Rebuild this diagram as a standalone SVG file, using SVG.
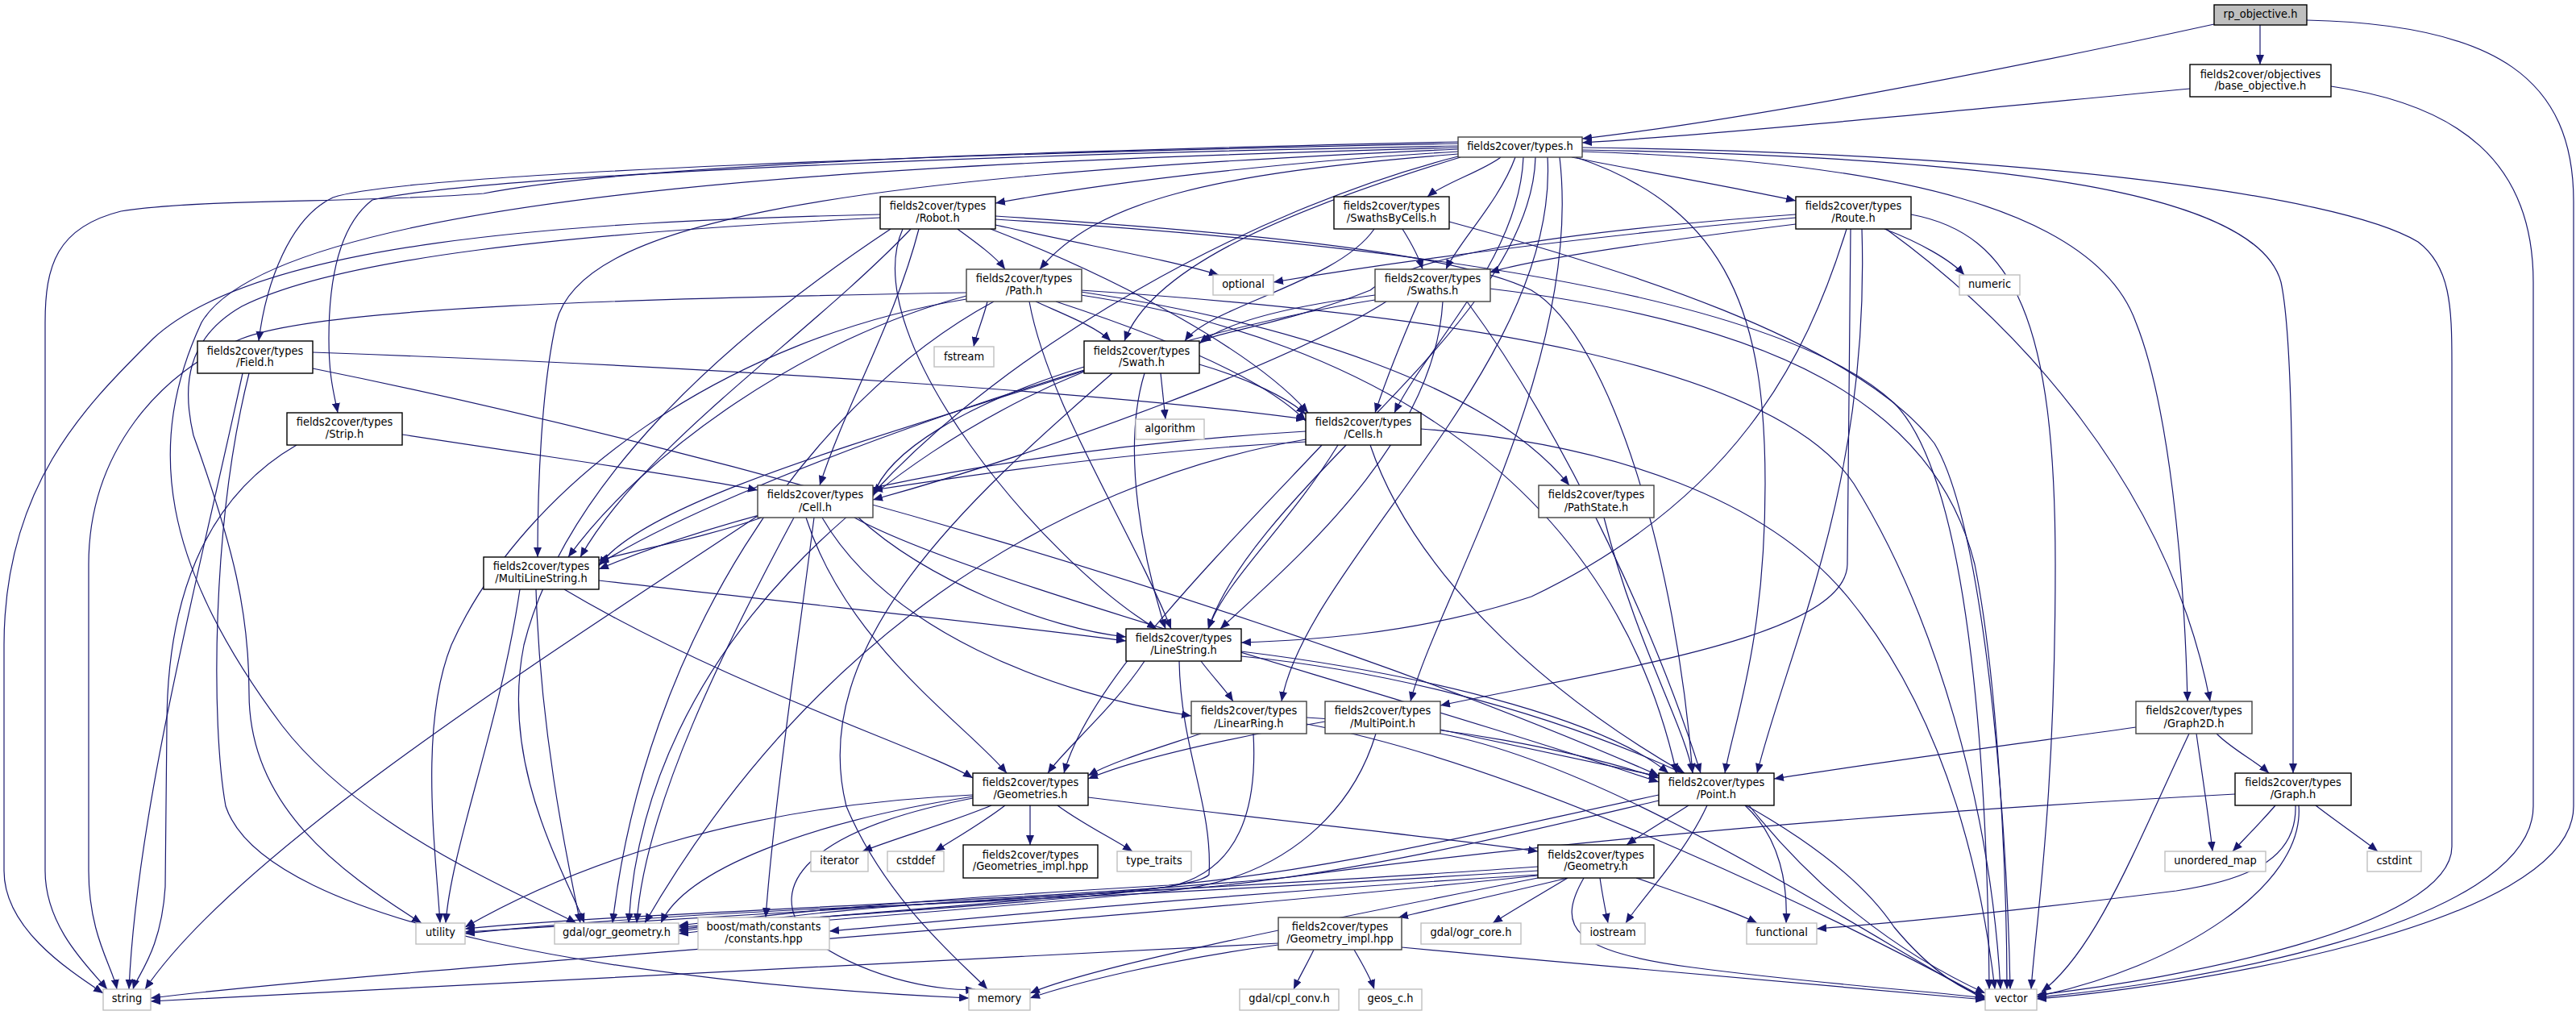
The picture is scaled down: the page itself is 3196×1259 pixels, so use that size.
<svg xmlns="http://www.w3.org/2000/svg" width="3196" height="1259" viewBox="0 0 3196 1259">
<defs>
<marker id="a" markerUnits="userSpaceOnUse" markerWidth="12" markerHeight="10" refX="12" refY="5" orient="auto"><path d="M0,0 L12,5 L0,10 z" fill="#191970"/></marker>
<style>
.e{fill:none;stroke:#191970;stroke-width:1.2;marker-end:url(#a)}
.n rect{fill:#fff;stroke:#000;stroke-width:1.4}
.d rect{stroke:#404040}
.x rect{stroke:#bfbfbf}
.r rect{fill:#bfbfbf}
text{font-family:"DejaVu Sans","Liberation Sans",sans-serif;font-size:13px;text-anchor:middle;fill:#000}
</style>
</defs>
<rect width="3196" height="1259" fill="#fff"/>
<g id="edges">
<path class="e" d="M2804,31 L2804,80"/>
<path class="e" d="M2747,30 C2450,95 2150,150 1963,172"/>
<path class="e" d="M2862,25 C3100,30 3193,100 3193,250 L3193,1000 C3193,1150 2700,1225 2527,1239"/>
<path class="e" d="M2717,110 C2400,140 2150,165 1963,177"/>
<path class="e" d="M2892,107 C3050,130 3143,200 3143,350 L3143,1000 C3143,1150 2700,1222 2527,1237"/>
<path class="e" d="M1809,188 C1600,200 1380,225 1235,252"/>
<path class="e" d="M1862,195 C1840,212 1790,228 1771,244"/>
<path class="e" d="M1950,195 C2050,215 2150,232 2228,249"/>
<path class="e" d="M1880,195 C1860,250 1810,300 1794,334"/>
<path class="e" d="M1809,191 C1500,215 1360,250 1290,334"/>
<path class="e" d="M1812,195 C1600,260 1430,330 1395,423"/>
<path class="e" d="M1890,195 C1885,320 1770,430 1730,512"/>
<path class="e" d="M1809,194 C1550,260 1250,430 1083,612"/>
<path class="e" d="M1809,178 C1200,190 500,215 413,245 C360,270 330,350 321,423"/>
<path class="e" d="M1809,181 C1200,192 600,218 462,248 C420,280 408,350 408,420 C408,470 415,490 419,512"/>
<path class="e" d="M1809,185 C1000,220 720,280 690,400 C672,480 667,600 667,691"/>
<path class="e" d="M1905,195 C1900,400 1560,600 1499,780"/>
<path class="e" d="M1920,195 C1935,450 1620,700 1590,870"/>
<path class="e" d="M1935,195 C1965,450 1780,750 1750,870"/>
<path class="e" d="M1955,195 C2150,260 2190,400 2190,600 C2190,800 2150,900 2140,959"/>
<path class="e" d="M1963,188 C2350,200 2600,260 2650,400 C2690,500 2710,700 2714,870"/>
<path class="e" d="M1963,186 C2500,195 2800,240 2830,350 C2845,420 2845,600 2845,959"/>
<path class="e" d="M1809,183 C1200,200 350,230 250,400 C180,550 200,700 350,900 C450,1030 650,1110 715,1145"/>
<path class="e" d="M1809,176 C1400,185 800,200 600,240 C450,252 250,246 150,262 C70,282 56,330 56,400 L56,1080 C56,1150 110,1200 133,1227"/>
<path class="e" d="M1963,183 C2500,190 2900,240 3000,300 C3040,330 3042,380 3042,450 L3042,1050 C3042,1150 2700,1215 2527,1234"/>
<path class="e" d="M1092,266 C700,275 320,300 190,420 C110,500 5,600 5,800 L5,1080 C5,1150 80,1200 128,1232"/>
<path class="e" d="M1092,270 C700,290 420,320 300,380 C230,420 226,480 240,540 C290,680 309,760 309,860 C309,1000 420,1080 523,1145"/>
<path class="e" d="M1105,284 C900,420 700,600 650,800 C620,950 700,1080 725,1145"/>
<path class="e" d="M1235,279 C1350,305 1450,322 1512,341"/>
<path class="e" d="M1188,284 C1210,300 1235,318 1247,334"/>
<path class="e" d="M1140,284 C1110,400 1050,500 1017,602"/>
<path class="e" d="M1229,284 C1400,350 1560,440 1623,512"/>
<path class="e" d="M1130,284 C1000,420 800,550 720,691"/>
<path class="e" d="M1120,284 C1060,420 1300,700 1435,780"/>
<path class="e" d="M1235,268 C1500,285 1800,310 1900,360 C2000,420 2080,700 2100,959"/>
<path class="e" d="M1235,272 C1700,300 2200,360 2350,500 C2450,600 2466,1000 2468,1227"/>
<path class="e" d="M1740,284 C1750,300 1760,318 1765,334"/>
<path class="e" d="M1705,284 C1660,350 1500,380 1470,423"/>
<path class="e" d="M1798,275 C2000,330 2300,420 2400,550 C2460,650 2490,1000 2494,1227"/>
<path class="e" d="M2228,270 C1900,300 1700,330 1580,350"/>
<path class="e" d="M2338,284 C2380,300 2420,322 2437,341"/>
<path class="e" d="M2228,278 C2050,300 1900,322 1848,338"/>
<path class="e" d="M2228,266 C1900,290 1750,320 1700,360 C1600,400 1520,410 1490,423"/>
<path class="e" d="M2291,284 C2240,450 2150,620 1900,740 C1750,790 1600,795 1540,797"/>
<path class="e" d="M2296,284 L2292,700 C2290,790 2000,830 1787,875"/>
<path class="e" d="M2340,284 C2500,400 2690,600 2742,870"/>
<path class="e" d="M2310,284 C2320,600 2220,800 2180,959"/>
<path class="e" d="M2371,266 C2500,290 2550,400 2550,700 C2550,1000 2525,1150 2520,1227"/>
<path class="e" d="M1199,363 C800,370 400,380 300,420 C200,460 110,560 110,700 L110,1080 C110,1160 140,1200 145,1227"/>
<path class="e" d="M1225,374 C1220,395 1212,412 1208,430"/>
<path class="e" d="M1285,374 C1320,390 1360,405 1378,423"/>
<path class="e" d="M1310,374 C1450,420 1570,470 1620,522"/>
<path class="e" d="M1341,362 C1600,400 1850,480 1947,602"/>
<path class="e" d="M1199,367 C1000,420 800,560 705,691"/>
<path class="e" d="M1277,374 C1300,500 1400,650 1453,780"/>
<path class="e" d="M1341,366 C1700,420 2000,600 2080,959"/>
<path class="e" d="M1233,374 C1000,500 800,800 760,1145"/>
<path class="e" d="M1199,371 C900,420 650,600 560,800 C520,900 540,1050 546,1145"/>
<path class="e" d="M1341,360 C1800,390 2200,450 2300,600 C2400,760 2470,1000 2482,1227"/>
<path class="e" d="M1706,366 C1600,380 1520,400 1488,426"/>
<path class="e" d="M1760,374 C1740,420 1720,470 1706,512"/>
<path class="e" d="M1720,374 C1600,450 1300,560 1083,620"/>
<path class="e" d="M1790,374 C1780,550 1600,700 1514,780"/>
<path class="e" d="M1706,372 C1400,420 900,600 743,700"/>
<path class="e" d="M1820,374 C1950,550 2060,800 2110,959"/>
<path class="e" d="M1848,358 C2200,400 2400,500 2450,700 C2480,850 2490,1100 2490,1227"/>
<path class="e" d="M1440,463 L1446,520"/>
<path class="e" d="M1488,452 C1550,470 1600,495 1620,514"/>
<path class="e" d="M1345,455 C1200,500 1100,560 1083,616"/>
<path class="e" d="M1420,463 C1390,560 1420,700 1446,780"/>
<path class="e" d="M1345,460 C1100,540 800,620 743,702"/>
<path class="e" d="M1345,461 C1100,560 800,800 780,1145"/>
<path class="e" d="M1380,463 C1200,620 1000,800 1050,1000 C1100,1120 1200,1200 1225,1227"/>
<path class="e" d="M388,437 C900,455 1400,490 1620,520"/>
<path class="e" d="M388,457 C900,560 1600,760 2058,962"/>
<path class="e" d="M301,463 C250,700 170,1000 160,1227"/>
<path class="e" d="M309,463 C262,650 262,900 280,1000 C330,1150 800,1220 1202,1238"/>
<path class="e" d="M499,539 C700,570 850,590 940,608"/>
<path class="e" d="M368,552 C250,620 207,750 207,900 L205,1100 C200,1180 170,1210 165,1227"/>
<path class="e" d="M1620,548 C1400,560 1200,590 1083,608"/>
<path class="e" d="M1660,552 C1600,650 1520,720 1499,780"/>
<path class="e" d="M1640,552 C1500,700 1350,850 1320,959"/>
<path class="e" d="M1700,552 C1750,700 1900,850 2090,959"/>
<path class="e" d="M1620,545 C1300,600 1000,800 800,1145"/>
<path class="e" d="M1763,532 C2000,550 2200,620 2300,750 C2420,900 2460,1100 2475,1227"/>
<path class="e" d="M1620,535 C1200,560 900,640 743,706"/>
<path class="e" d="M945,642 C880,665 800,680 743,695"/>
<path class="e" d="M1065,642 C1150,720 1300,780 1397,790"/>
<path class="e" d="M1020,642 C1100,780 1300,860 1478,888"/>
<path class="e" d="M1000,642 C1050,800 1200,900 1249,959"/>
<path class="e" d="M1060,642 C1200,720 1700,850 2058,970"/>
<path class="e" d="M985,642 C900,800 800,1000 790,1145"/>
<path class="e" d="M940,640 C700,800 300,1050 180,1227"/>
<path class="e" d="M1010,642 C990,800 960,1000 950,1138"/>
<path class="e" d="M1990,642 C2030,800 2090,900 2100,959"/>
<path class="e" d="M743,720 C1000,750 1250,775 1397,795"/>
<path class="e" d="M700,731 C900,850 1150,930 1207,965"/>
<path class="e" d="M665,731 C670,900 700,1050 720,1145"/>
<path class="e" d="M645,731 C620,900 560,1050 553,1145"/>
<path class="e" d="M1490,820 C1505,840 1520,855 1530,870"/>
<path class="e" d="M1420,820 C1380,880 1320,930 1300,959"/>
<path class="e" d="M1540,808 C1800,840 2000,900 2070,959"/>
<path class="e" d="M1463,820 C1465,930 1505,1000 1500,1085 C1480,1105 1300,1118 842,1150"/>
<path class="e" d="M1540,814 C1900,850 2250,1000 2350,1150 C2400,1210 2440,1230 2463,1236"/>
<path class="e" d="M1490,910 C1430,930 1380,945 1350,962"/>
<path class="e" d="M1621,890 C1800,900 1950,930 2058,965"/>
<path class="e" d="M1555,910 C1560,1000 1540,1080 1450,1100 C1200,1125 950,1140 842,1155"/>
<path class="e" d="M1621,898 C1900,950 2300,1150 2463,1238"/>
<path class="e" d="M1644,895 C1500,920 1400,945 1350,966"/>
<path class="e" d="M1787,905 C1900,930 2000,950 2058,963"/>
<path class="e" d="M1707,910 C1680,1000 1600,1090 1450,1105 C1200,1130 950,1145 842,1158"/>
<path class="e" d="M1787,910 C2000,950 2300,1150 2463,1240"/>
<path class="e" d="M2650,902 C2450,930 2300,950 2201,966"/>
<path class="e" d="M2750,910 C2770,930 2800,945 2815,959"/>
<path class="e" d="M2725,910 C2732,960 2740,1010 2745,1056"/>
<path class="e" d="M2716,910 C2650,1050 2600,1180 2533,1230"/>
<path class="e" d="M2823,999 C2805,1020 2785,1040 2770,1056"/>
<path class="e" d="M2873,999 C2900,1020 2930,1040 2950,1056"/>
<path class="e" d="M2852,999 C2860,1100 2700,1200 2527,1236"/>
<path class="e" d="M2848,999 C2850,1060 2800,1090 2700,1105 C2500,1130 2350,1145 2254,1152"/>
<path class="e" d="M2773,985 C2400,1005 2000,1035 1600,1088 C1300,1118 800,1130 577,1152"/>
<path class="e" d="M1230,999 C1180,1020 1110,1040 1070,1056"/>
<path class="e" d="M1247,999 C1220,1020 1185,1040 1160,1056"/>
<path class="e" d="M1278,999 L1278,1048"/>
<path class="e" d="M1312,999 C1340,1020 1380,1040 1405,1056"/>
<path class="e" d="M1350,989 C1600,1020 1800,1040 1908,1056"/>
<path class="e" d="M1207,988 C1000,1020 850,1080 820,1145"/>
<path class="e" d="M1207,990 C1000,1030 950,1100 1000,1160 C1080,1220 1180,1230 1210,1227"/>
<path class="e" d="M1207,986 C900,1000 700,1080 577,1150"/>
<path class="e" d="M2095,999 C2070,1015 2040,1033 2018,1048"/>
<path class="e" d="M2118,999 C2090,1060 2040,1110 2017,1145"/>
<path class="e" d="M2165,999 C2210,1040 2218,1100 2216,1145"/>
<path class="e" d="M2170,999 C2250,1100 2350,1180 2463,1232"/>
<path class="e" d="M2058,986 C1850,1030 1650,1080 1450,1098 C1100,1118 950,1135 842,1148"/>
<path class="e" d="M2058,993 C1900,1030 1700,1080 1500,1100 C1100,1125 800,1140 577,1156"/>
<path class="e" d="M1945,1089 C1880,1105 1790,1125 1735,1138"/>
<path class="e" d="M1945,1089 C1910,1110 1875,1130 1852,1145"/>
<path class="e" d="M1985,1089 C1988,1110 1992,1130 1995,1145"/>
<path class="e" d="M2030,1089 C2090,1110 2150,1130 2180,1145"/>
<path class="e" d="M1965,1089 C1930,1150 1950,1180 2100,1200 C2250,1220 2400,1230 2463,1238"/>
<path class="e" d="M1908,1075 C1700,1090 1500,1100 1300,1112 C1050,1125 950,1140 842,1153"/>
<path class="e" d="M1908,1080 C1600,1100 1300,1115 1000,1128 C800,1138 650,1150 577,1158"/>
<path class="e" d="M1908,1085 C1500,1110 1200,1140 1029,1155"/>
<path class="e" d="M1908,1089 C1600,1150 1350,1200 1278,1232"/>
<path class="e" d="M1908,1086 C1300,1150 500,1200 187,1238"/>
<path class="e" d="M1630,1178 C1622,1195 1612,1212 1605,1227"/>
<path class="e" d="M1680,1178 C1690,1195 1700,1212 1705,1227"/>
<path class="e" d="M1739,1175 C2000,1200 2300,1225 2463,1240"/>
<path class="e" d="M1586,1170 C1000,1200 400,1230 187,1242"/>
<path class="e" d="M1586,1172 C1450,1190 1330,1220 1278,1238"/>
</g>
<g id="rp_objective" class="n r"><rect x="2747" y="6" width="115" height="25"/><text transform="scale(1 1.1)" x="2804.5" y="20.45">rp_objective.h</text></g>
<g id="base_objective" class="n"><rect x="2717" y="80" width="175" height="40"/><text transform="scale(1 1.1)" x="2804.5" y="87.73">fields2cover/objectives</text><text transform="scale(1 1.1)" x="2804.5" y="101.36">/base_objective.h</text></g>
<g id="types" class="n d"><rect x="1809" y="170" width="154" height="25"/><text transform="scale(1 1.1)" x="1886" y="169.55">fields2cover/types.h</text></g>
<g id="robot" class="n"><rect x="1092" y="244" width="143" height="40"/><text transform="scale(1 1.1)" x="1163.5" y="236.82">fields2cover/types</text><text transform="scale(1 1.1)" x="1163.5" y="250.45">/Robot.h</text></g>
<g id="swathsbycells" class="n"><rect x="1655" y="244" width="143" height="40"/><text transform="scale(1 1.1)" x="1726.5" y="236.82">fields2cover/types</text><text transform="scale(1 1.1)" x="1726.5" y="250.45">/SwathsByCells.h</text></g>
<g id="route" class="n"><rect x="2228" y="244" width="143" height="40"/><text transform="scale(1 1.1)" x="2299.5" y="236.82">fields2cover/types</text><text transform="scale(1 1.1)" x="2299.5" y="250.45">/Route.h</text></g>
<g id="path" class="n d"><rect x="1199" y="334" width="143" height="40"/><text transform="scale(1 1.1)" x="1270.5" y="318.64">fields2cover/types</text><text transform="scale(1 1.1)" x="1270.5" y="332.27">/Path.h</text></g>
<g id="optional" class="n x"><rect x="1505" y="341" width="75" height="25"/><text transform="scale(1 1.1)" x="1542.5" y="325">optional</text></g>
<g id="swaths" class="n d"><rect x="1706" y="334" width="143" height="40"/><text transform="scale(1 1.1)" x="1777.5" y="318.64">fields2cover/types</text><text transform="scale(1 1.1)" x="1777.5" y="332.27">/Swaths.h</text></g>
<g id="numeric" class="n x"><rect x="2431" y="341" width="75" height="25"/><text transform="scale(1 1.1)" x="2468.5" y="325">numeric</text></g>
<g id="field" class="n"><rect x="245" y="423" width="143" height="40"/><text transform="scale(1 1.1)" x="316.5" y="399.55">fields2cover/types</text><text transform="scale(1 1.1)" x="316.5" y="413.18">/Field.h</text></g>
<g id="swath" class="n"><rect x="1345" y="423" width="143" height="40"/><text transform="scale(1 1.1)" x="1416.5" y="399.55">fields2cover/types</text><text transform="scale(1 1.1)" x="1416.5" y="413.18">/Swath.h</text></g>
<g id="fstream" class="n x"><rect x="1159" y="430" width="74" height="25"/><text transform="scale(1 1.1)" x="1196" y="405.91">fstream</text></g>
<g id="strip" class="n"><rect x="356" y="512" width="143" height="40"/><text transform="scale(1 1.1)" x="427.5" y="480.45">fields2cover/types</text><text transform="scale(1 1.1)" x="427.5" y="494.09">/Strip.h</text></g>
<g id="algorithm" class="n x"><rect x="1409" y="520" width="85" height="25"/><text transform="scale(1 1.1)" x="1451.5" y="487.73">algorithm</text></g>
<g id="cells" class="n"><rect x="1620" y="512" width="143" height="40"/><text transform="scale(1 1.1)" x="1691.5" y="480.45">fields2cover/types</text><text transform="scale(1 1.1)" x="1691.5" y="494.09">/Cells.h</text></g>
<g id="cell" class="n d"><rect x="940" y="602" width="143" height="40"/><text transform="scale(1 1.1)" x="1011.5" y="562.27">fields2cover/types</text><text transform="scale(1 1.1)" x="1011.5" y="575.91">/Cell.h</text></g>
<g id="pathstate" class="n d"><rect x="1909" y="602" width="143" height="40"/><text transform="scale(1 1.1)" x="1980.5" y="562.27">fields2cover/types</text><text transform="scale(1 1.1)" x="1980.5" y="575.91">/PathState.h</text></g>
<g id="multilinestring" class="n"><rect x="600" y="691" width="143" height="40"/><text transform="scale(1 1.1)" x="671.5" y="643.18">fields2cover/types</text><text transform="scale(1 1.1)" x="671.5" y="656.82">/MultiLineString.h</text></g>
<g id="linestring" class="n"><rect x="1397" y="780" width="143" height="40"/><text transform="scale(1 1.1)" x="1468.5" y="724.09">fields2cover/types</text><text transform="scale(1 1.1)" x="1468.5" y="737.73">/LineString.h</text></g>
<g id="linearring" class="n d"><rect x="1478" y="870" width="143" height="40"/><text transform="scale(1 1.1)" x="1549.5" y="805.91">fields2cover/types</text><text transform="scale(1 1.1)" x="1549.5" y="819.55">/LinearRing.h</text></g>
<g id="multipoint" class="n d"><rect x="1644" y="870" width="143" height="40"/><text transform="scale(1 1.1)" x="1715.5" y="805.91">fields2cover/types</text><text transform="scale(1 1.1)" x="1715.5" y="819.55">/MultiPoint.h</text></g>
<g id="graph2d" class="n d"><rect x="2650" y="870" width="144" height="40"/><text transform="scale(1 1.1)" x="2722" y="805.91">fields2cover/types</text><text transform="scale(1 1.1)" x="2722" y="819.55">/Graph2D.h</text></g>
<g id="geometries" class="n"><rect x="1207" y="959" width="143" height="40"/><text transform="scale(1 1.1)" x="1278.5" y="886.82">fields2cover/types</text><text transform="scale(1 1.1)" x="1278.5" y="900.45">/Geometries.h</text></g>
<g id="point" class="n"><rect x="2058" y="959" width="143" height="40"/><text transform="scale(1 1.1)" x="2129.5" y="886.82">fields2cover/types</text><text transform="scale(1 1.1)" x="2129.5" y="900.45">/Point.h</text></g>
<g id="graph" class="n"><rect x="2773" y="959" width="144" height="40"/><text transform="scale(1 1.1)" x="2845" y="886.82">fields2cover/types</text><text transform="scale(1 1.1)" x="2845" y="900.45">/Graph.h</text></g>
<g id="iterator" class="n x"><rect x="1006" y="1056" width="71" height="25"/><text transform="scale(1 1.1)" x="1041.5" y="975">iterator</text></g>
<g id="cstddef" class="n x"><rect x="1101" y="1056" width="70" height="25"/><text transform="scale(1 1.1)" x="1136" y="975">cstddef</text></g>
<g id="geometries_impl" class="n"><rect x="1195" y="1048" width="167" height="41"/><text transform="scale(1 1.1)" x="1278.5" y="967.73">fields2cover/types</text><text transform="scale(1 1.1)" x="1278.5" y="981.36">/Geometries_impl.hpp</text></g>
<g id="type_traits" class="n x"><rect x="1386" y="1056" width="92" height="25"/><text transform="scale(1 1.1)" x="1432" y="975">type_traits</text></g>
<g id="unordered_map" class="n x"><rect x="2686" y="1056" width="125" height="25"/><text transform="scale(1 1.1)" x="2748.5" y="975">unordered_map</text></g>
<g id="cstdint" class="n x"><rect x="2937" y="1056" width="67" height="25"/><text transform="scale(1 1.1)" x="2970.5" y="975">cstdint</text></g>
<g id="geometry" class="n"><rect x="1908" y="1048" width="144" height="41"/><text transform="scale(1 1.1)" x="1980" y="967.73">fields2cover/types</text><text transform="scale(1 1.1)" x="1980" y="981.36">/Geometry.h</text></g>
<g id="utility" class="n x"><rect x="516" y="1145" width="61" height="26"/><text transform="scale(1 1.1)" x="546.5" y="1055.91">utility</text></g>
<g id="ogr_geometry" class="n x"><rect x="688" y="1145" width="154" height="26"/><text transform="scale(1 1.1)" x="765" y="1055.91">gdal/ogr_geometry.h</text></g>
<g id="boost_constants" class="n x"><rect x="866" y="1138" width="163" height="40"/><text transform="scale(1 1.1)" x="947.5" y="1049.55">boost/math/constants</text><text transform="scale(1 1.1)" x="947.5" y="1063.18">/constants.hpp</text></g>
<g id="geometry_impl" class="n d"><rect x="1586" y="1138" width="153" height="40"/><text transform="scale(1 1.1)" x="1662.5" y="1049.55">fields2cover/types</text><text transform="scale(1 1.1)" x="1662.5" y="1063.18">/Geometry_impl.hpp</text></g>
<g id="ogr_core" class="n x"><rect x="1763" y="1145" width="124" height="26"/><text transform="scale(1 1.1)" x="1825" y="1055.91">gdal/ogr_core.h</text></g>
<g id="iostream" class="n x"><rect x="1961" y="1145" width="80" height="26"/><text transform="scale(1 1.1)" x="2001" y="1055.91">iostream</text></g>
<g id="functional" class="n x"><rect x="2167" y="1145" width="87" height="26"/><text transform="scale(1 1.1)" x="2210.5" y="1055.91">functional</text></g>
<g id="string" class="n x"><rect x="128" y="1227" width="59" height="26"/><text transform="scale(1 1.1)" x="157.5" y="1130.45">string</text></g>
<g id="memory" class="n x"><rect x="1202" y="1227" width="76" height="26"/><text transform="scale(1 1.1)" x="1240" y="1130.45">memory</text></g>
<g id="cpl_conv" class="n x"><rect x="1538" y="1227" width="123" height="26"/><text transform="scale(1 1.1)" x="1599.5" y="1130.45">gdal/cpl_conv.h</text></g>
<g id="geos_c" class="n x"><rect x="1686" y="1227" width="78" height="26"/><text transform="scale(1 1.1)" x="1725" y="1130.45">geos_c.h</text></g>
<g id="vector" class="n x"><rect x="2463" y="1227" width="64" height="26"/><text transform="scale(1 1.1)" x="2495" y="1130.45">vector</text></g>
</svg>
